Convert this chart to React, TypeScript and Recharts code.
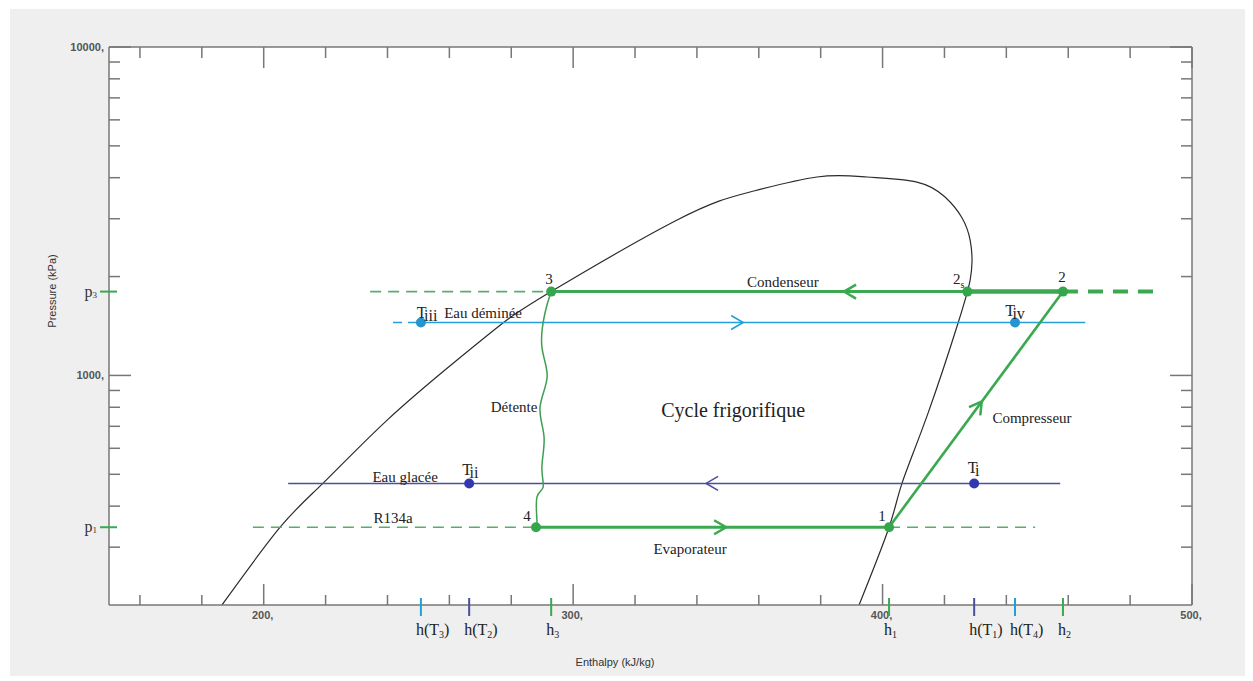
import React from "react";
import { ComposedChart, Line, Scatter, XAxis, YAxis } from "recharts";

// diagramme p-h du R134a, cycle frigorifique
const xTicks = [160, 180, 200, 220, 240, 260, 280, 300, 320, 340, 360, 380, 400, 420, 440, 460, 480, 500];
const yTicks = [300, 400, 500, 600, 700, 800, 900, 1000, 2000, 3000, 4000, 5000, 6000, 7000, 8000, 9000, 10000];
const xLabelled = [200, 300, 400, 500];
const yLabelled = [1000, 10000];

// pressions (kPa)
const p1 = 345;
const p3 = 1800;
const pDemin = 1450;
const pGlacee = 469;

// enthalpies (kJ/kg)
const h1 = 402.1;
const h2 = 458.3;
const h2s = 427.4;
const h3 = 292.9;
const h4 = 288;
const hT1 = 429.6;
const hT2 = 266.4;
const hT3 = 250.8;
const hT4 = 442.8;

const hMarks = [
  { value: hT3, base: "h(T", sub: "3", tail: ")", kind: "demin" },
  { value: hT2, base: "h(T", sub: "2", tail: ")", kind: "glacee" },
  { value: h3, base: "h", sub: "3", tail: "", kind: "r134a" },
  { value: h1, base: "h", sub: "1", tail: "", kind: "r134a" },
  { value: hT1, base: "h(T", sub: "1", tail: ")", kind: "glacee" },
  { value: hT4, base: "h(T", sub: "4", tail: ")", kind: "demin" },
  { value: h2, base: "h", sub: "2", tail: "", kind: "r134a" },
];
const pMarks = [
  { value: p3, sub: "3" },
  { value: p1, sub: "1" },
];

// courbe de saturation
const dome = [
  { h: 186.5, p: 200 },
  { h: 205.3, p: 345 },
  { h: 219.2, p: 470 },
  { h: 239.9, p: 731 },
  { h: 262.5, p: 1114 },
  { h: 277.3, p: 1444 },
  { h: 292.9, p: 1800 },
  { h: 333.6, p: 2973 },
  { h: 357.2, p: 3619 },
  { h: 378.8, p: 4019 },
  { h: 395.0, p: 4019 },
  { h: 411.1, p: 3880 },
  { h: 420.2, p: 3493 },
  { h: 425.7, p: 3015 },
  { h: 428.3, p: 2584 },
  { h: 428.9, p: 2214 },
  { h: 428.3, p: 1952 },
  { h: 427.4, p: 1800 },
  { h: 424.4, p: 1444 },
  { h: 414.7, p: 768 },
  { h: 406.3, p: 470 },
  { h: 402.1, p: 345 },
  { h: 392.4, p: 200 },
];

const detente = [
  { h: 292.9, p: 1800 },
  { h: 290.9, p: 1549 },
  { h: 289.9, p: 1221 },
  { h: 291.6, p: 989 },
  { h: 289.3, p: 801 },
  { h: 290.6, p: 649 },
  { h: 289.9, p: 526 },
  { h: 290.3, p: 457 },
  { h: 288.3, p: 426 },
  { h: 288.3, p: 363 },
  { h: 288.0, p: 345 },
];

const condenseur = [{ h: h3, p: p3 }, { h: h2s, p: p3 }];
const desurchauffe = [{ h: h2s, p: p3 }, { h: h2, p: p3 }];
const hpDashLeft = [{ h: 234.4, p: p3 }, { h: h3, p: p3 }];
const hpDashRight = [{ h: h2, p: p3 }, { h: 488.7, p: p3 }];
const evaporateur = [{ h: h4, p: p1 }, { h: h1, p: p1 }];
const bpDashLeft = [{ h: 196.5, p: p1 }, { h: h4, p: p1 }];
const bpDashRight = [{ h: h1, p: p1 }, { h: 449.3, p: p1 }];
const compresseur = [{ h: h1, p: p1 }, { h: h2, p: p3 }];
const eauDemineeDash = [{ h: 241.8, p: pDemin }, { h: hT3, p: pDemin }];
const eauDeminee = [{ h: hT3, p: pDemin }, { h: 465.5, p: pDemin }];
const eauGlacee = [{ h: 207.9, p: pGlacee }, { h: 457.4, p: pGlacee }];

const cyclePoints = [
  { h: h3, p: p3 },
  { h: h2s, p: p3 },
  { h: h2, p: p3 },
  { h: h4, p: p1 },
  { h: h1, p: p1 },
];
const demineePoints = [{ h: hT3, p: pDemin }, { h: hT4, p: pDemin }];
const glaceePoints = [{ h: hT2, p: pGlacee }, { h: hT1, p: pGlacee }];

const arrows = [
  { h: 389.5, p: p3, dir: 180, kind: "r134a" },
  { h: 347.5, p: p1, dir: 0, kind: "r134a" },
  { h: 430.9, p: 805, dir: -53.6, kind: "r134a" },
  { h: 353, p: pDemin, dir: 0, kind: "demin" },
  { h: 344.9, p: pGlacee, dir: 180, kind: "glacee" },
];

const notes = [
  { h: 292.2, p: 1966, text: "3", sub: "" },
  { h: 424.6, p: 1966, text: "2", sub: "s" },
  { h: 458.0, p: 1994, text: "2", sub: "" },
  { h: 399.8, p: 373, text: "1", sub: "" },
  { h: 285.1, p: 373, text: "4", sub: "" },
  { h: 367.8, p: 1925, text: "Condenseur", sub: "" },
  { h: 448.3, p: 742, text: "Compresseur", sub: "" },
  { h: 280.9, p: 801, text: "Détente", sub: "" },
  { h: 337.8, p: 296, text: "Evaporateur", sub: "" },
  { h: 245.7, p: 490, text: "Eau glacée", sub: "" },
  { h: 241.8, p: 368, text: "R134a", sub: "" },
  { h: 270.9, p: 1549, text: "Eau déminée", sub: "" },
];
const tempNotes = [
  { h: 252.8, p: 1560, text: "T", tail: "iii" },
  { h: 442.8, p: 1582, text: "T", tail: "iv" },
  { h: 266.8, p: 519, text: "T", tail: "ii" },
  { h: 429.4, p: 526, text: "T", tail: "i" },
];
const title = [{ h: 351.7, p: 785, text: "Cycle frigorifique" }];

const COLORS: Record<string, string> = {
  r134a: "#3aa94f",
  demin: "#22a0d8",
  glacee: "#4c4f9c",
};
const SERIF = '"Liberation Serif", "Times New Roman", serif';
const SANS = '"Liberation Sans", Arial, sans-serif';
const AXIS = "#777";
const NUM = { fontFamily: SANS, fontSize: 11, fill: "#555", fontWeight: 700 };

const BottomTick = (props: any) => {
  const { x, y, payload } = props;
  const v = payload.value;
  const mark = hMarks.find((m) => Math.abs(m.value - v) < 1e-6);
  if (mark) {
    return (
      <g>
        <line x1={x} x2={x} y1={y - 7} y2={y + 11} stroke={COLORS[mark.kind]} strokeWidth={2} />
        <text x={x - 5} y={y + 30} fontFamily={SERIF} fontSize={16} fill="#222">
          {mark.base}
          <tspan fontSize={10} dy={3}>{mark.sub}</tspan>
          {mark.tail ? <tspan dy={-3} fontSize={16}>{mark.tail}</tspan> : null}
        </text>
      </g>
    );
  }
  const major = xLabelled.includes(v);
  return (
    <g>
      <line x1={x} x2={x} y1={y} y2={y - (major ? 21 : 10)} stroke={AXIS} strokeWidth={1.5} />
      {major ? (
        <text x={x - 1} y={y + 14} textAnchor="middle" {...NUM}>
          {`${v},`}
        </text>
      ) : null}
    </g>
  );
};

const TopTick = (props: any) => {
  const { x, y, payload } = props;
  const major = xLabelled.includes(payload.value);
  return <line x1={x} x2={x} y1={y} y2={y + (major ? 21 : 11)} stroke={AXIS} strokeWidth={1.5} />;
};

const LeftTick = (props: any) => {
  const { x, y, payload } = props;
  const v = payload.value;
  const mark = pMarks.find((m) => m.value === v);
  if (mark) {
    return (
      <g>
        <line x1={x - 9} x2={x + 8} y1={y} y2={y} stroke={COLORS.r134a} strokeWidth={2} />
        <text x={x - 12} y={y + 5} textAnchor="end" fontFamily={SERIF} fontSize={16} fill="#333">
          p<tspan fontSize={9} dy={1}>{mark.sub}</tspan>
        </text>
      </g>
    );
  }
  const major = yLabelled.includes(v);
  return (
    <g>
      <line x1={x} x2={x + (major ? 22 : 11)} y1={y} y2={y} stroke={AXIS} strokeWidth={1.5} />
      {major ? (
        <text x={x - 5} y={y + 4} textAnchor="end" {...NUM}>
          {`${v},`}
        </text>
      ) : null}
    </g>
  );
};

const RightTick = (props: any) => {
  const { x, y, payload } = props;
  const major = yLabelled.includes(payload.value);
  return <line x1={x} x2={x - (major ? 22 : 11)} y1={y} y2={y} stroke={AXIS} strokeWidth={1.5} />;
};

const dotShape = (fill: string) => (s: any) => <circle cx={s.cx} cy={s.cy} r={5} fill={fill} />;

const arrowShape = (s: any) => {
  const a = s.payload;
  return (
    <path
      d="M-6,-7 L6,0 L-6,7"
      transform={`translate(${s.cx},${s.cy}) rotate(${a.dir})`}
      fill="none"
      stroke={COLORS[a.kind]}
      strokeWidth={a.kind === "r134a" ? 2.5 : 1.6}
    />
  );
};

const noteShape = (s: any) => {
  const n = s.payload;
  return (
    <text x={s.cx} y={s.cy} dy="0.35em" textAnchor="middle" fontFamily={SERIF} fontSize={15} fill="#222">
      {n.text}
      {n.sub ? <tspan fontSize={10} dy={4}>{n.sub}</tspan> : null}
    </text>
  );
};

const tempShape = (s: any) => {
  const n = s.payload;
  return (
    <text x={s.cx} y={s.cy} dy="0.35em" textAnchor="middle" fontFamily={SERIF} fontSize={16} fill="#222">
      {n.text}
      <tspan dx={-2} dy={3}>{n.tail}</tspan>
    </text>
  );
};

const titleShape = (s: any) => (
  <text x={s.cx} y={s.cy} dy="0.35em" textAnchor="middle" fontFamily={SERIF} fontSize={20} fill="#222">
    {s.payload.text}
  </text>
);

const ax = { xAxisId: "b", yAxisId: "l" };

export default function App() {
  return (
    <div style={{ position: "absolute", left: 0, top: 0, width: 1253, height: 681, background: "#ffffff", overflow: "hidden" }}>
      <div style={{ position: "absolute", left: 10, top: 9, width: 1235, height: 667, background: "#efefef" }} />
      <div style={{ position: "absolute", left: 109, top: 47, width: 1083, height: 558, background: "#ffffff" }} />
      <div
        style={{
          position: "absolute",
          left: 52,
          top: 291,
          transform: "translate(-50%, -50%) rotate(-90deg)",
          whiteSpace: "nowrap",
          fontFamily: SANS,
          fontSize: 11,
          color: "#333",
        }}
      >
        Pressure (kPa)
      </div>
      <div
        style={{
          position: "absolute",
          left: 615,
          top: 662,
          transform: "translate(-50%, -50%)",
          whiteSpace: "nowrap",
          fontFamily: SANS,
          fontSize: 11,
          color: "#333",
        }}
      >
        Enthalpy (kJ/kg)
      </div>
      <div style={{ position: "absolute", left: 0, top: 0 }}>
        <ComposedChart width={1253} height={681} margin={{ top: 17, right: 1, bottom: 46, left: 49 }}>
          <XAxis
            xAxisId="b"
            dataKey="h"
            type="number"
            domain={[150, 500]}
            allowDataOverflow
            ticks={[...xTicks, ...hMarks.map((m) => m.value)]}
            interval={0}
            tickSize={0}
            tickMargin={0}
            tickLine={false}
            axisLine={{ stroke: AXIS, strokeWidth: 1.5 }}
            tick={BottomTick}
            height={30}
          />
          <XAxis
            xAxisId="t"
            orientation="top"
            dataKey="h"
            type="number"
            domain={[150, 500]}
            allowDataOverflow
            ticks={xTicks}
            interval={0}
            tickSize={0}
            tickMargin={0}
            tickLine={false}
            axisLine={{ stroke: AXIS, strokeWidth: 1.5 }}
            tick={TopTick}
            height={30}
          />
          <YAxis
            yAxisId="l"
            dataKey="p"
            type="number"
            scale="log"
            domain={[200, 10000]}
            allowDataOverflow
            ticks={[...yTicks, ...pMarks.map((m) => m.value)]}
            interval={0}
            tickSize={0}
            tickMargin={0}
            tickLine={false}
            axisLine={{ stroke: AXIS, strokeWidth: 1.5 }}
            tick={LeftTick}
            width={60}
          />
          <YAxis
            yAxisId="r"
            orientation="right"
            dataKey="p"
            type="number"
            scale="log"
            domain={[200, 10000]}
            allowDataOverflow
            ticks={yTicks}
            interval={0}
            tickSize={0}
            tickMargin={0}
            tickLine={false}
            axisLine={{ stroke: AXIS, strokeWidth: 1.5 }}
            tick={RightTick}
            width={60}
          />

          <Line {...ax} data={dome} dataKey="p" type="natural" stroke="#2b2b2b" strokeWidth={1.2} dot={false} isAnimationActive={false} />

          <Line {...ax} data={eauDemineeDash} dataKey="p" stroke={COLORS.demin} strokeWidth={1.6} strokeDasharray="9 6" dot={false} isAnimationActive={false} />
          <Line {...ax} data={eauDeminee} dataKey="p" stroke={COLORS.demin} strokeWidth={1.6} dot={false} isAnimationActive={false} />
          <Line {...ax} data={eauGlacee} dataKey="p" stroke={COLORS.glacee} strokeWidth={1.6} dot={false} isAnimationActive={false} />

          <Line {...ax} data={hpDashLeft} dataKey="p" stroke="#5aab6c" strokeWidth={1.6} strokeDasharray="11 7" dot={false} isAnimationActive={false} />
          <Line {...ax} data={bpDashLeft} dataKey="p" stroke="#5aab6c" strokeWidth={1.6} strokeDasharray="11 7" dot={false} isAnimationActive={false} />
          <Line {...ax} data={bpDashRight} dataKey="p" stroke="#5aab6c" strokeWidth={1.6} strokeDasharray="11 7" dot={false} isAnimationActive={false} />
          <Line {...ax} data={hpDashRight} dataKey="p" stroke={COLORS.r134a} strokeWidth={4} strokeDasharray="15 10" dot={false} isAnimationActive={false} />

          <Line {...ax} data={detente} dataKey="p" type="natural" stroke="#3f9e52" strokeWidth={1.5} dot={false} isAnimationActive={false} />
          <Line {...ax} data={condenseur} dataKey="p" stroke={COLORS.r134a} strokeWidth={3} dot={false} isAnimationActive={false} />
          <Line {...ax} data={desurchauffe} dataKey="p" stroke={COLORS.r134a} strokeWidth={4.5} dot={false} isAnimationActive={false} />
          <Line {...ax} data={evaporateur} dataKey="p" stroke={COLORS.r134a} strokeWidth={3} dot={false} isAnimationActive={false} />
          <Line {...ax} data={compresseur} dataKey="p" stroke={COLORS.r134a} strokeWidth={2.6} dot={false} isAnimationActive={false} />

          <Scatter {...ax} data={arrows} dataKey="p" shape={arrowShape} isAnimationActive={false} />
          <Scatter {...ax} data={cyclePoints} dataKey="p" shape={dotShape("#35a64c")} isAnimationActive={false} />
          <Scatter {...ax} data={demineePoints} dataKey="p" shape={dotShape("#2594d0")} isAnimationActive={false} />
          <Scatter {...ax} data={glaceePoints} dataKey="p" shape={dotShape("#3438b0")} isAnimationActive={false} />

          <Scatter {...ax} data={notes} dataKey="p" shape={noteShape} isAnimationActive={false} />
          <Scatter {...ax} data={tempNotes} dataKey="p" shape={tempShape} isAnimationActive={false} />
          <Scatter {...ax} data={title} dataKey="p" shape={titleShape} isAnimationActive={false} />
        </ComposedChart>
      </div>
    </div>
  );
}
